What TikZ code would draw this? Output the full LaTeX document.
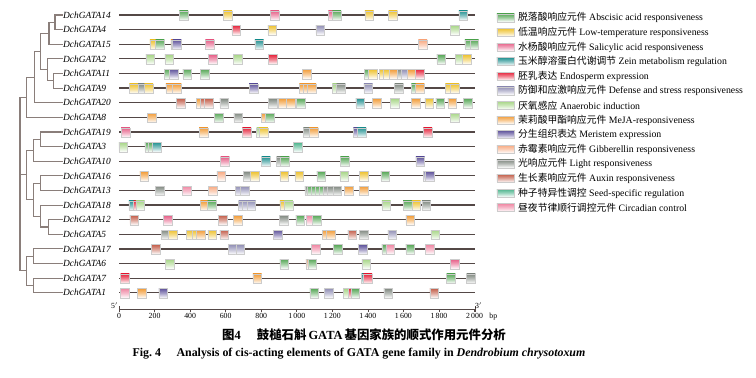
\documentclass[tikz,border=0pt]{standalone}
\usepackage{fontspec}
\setmainfont{Liberation Serif}
\newfontfamily\cjk{Noto Sans CJK SC}
\usetikzlibrary{positioning}

\definecolor{cABA}{RGB}{88,168,88}
\definecolor{cLT}{RGB}{238,194,48}
\definecolor{cSA}{RGB}{230,96,136}
\definecolor{cZN}{RGB}{36,146,146}
\definecolor{cEN}{RGB}{230,36,60}
\definecolor{cDF}{RGB}{146,144,182}
\definecolor{cAN}{RGB}{168,214,136}
\definecolor{cMJ}{RGB}{242,156,56}
\definecolor{cMR}{RGB}{96,84,156}
\definecolor{cGA}{RGB}{248,170,130}
\definecolor{cLR}{RGB}{130,138,130}
\definecolor{cAX}{RGB}{196,96,76}
\definecolor{cSD}{RGB}{76,180,140}
\definecolor{cCC}{RGB}{240,136,164}
\definecolor{treegray}{RGB}{138,126,122}
\definecolor{linegray}{RGB}{84,72,70}

\begin{document}
\begin{tikzpicture}[x=1pt, y=-1pt,
    glabel/.style={anchor=west, inner sep=0.5pt, font=\fontsize{9.4}{10}\selectfont\itshape},
    branch/.style={draw=treegray, line width=1.1pt},
    gline/.style={draw=linegray, line width=1.25pt},
    motif/.style={rectangle, draw=black!20, line width=0.4pt, minimum width=8.7pt, minimum height=9.5pt,
      inner sep=0pt, bottom color=white, top color=#1, middle color=#1!55},
    key/.style={rectangle, draw=black!20, line width=0.4pt, minimum width=17.5pt, minimum height=8pt,
      inner sep=0pt, bottom color=white, top color=#1, middle color=#1!55},
    keytext/.style={inner sep=0pt, font=\fontsize{9.8}{11}\selectfont},
    tick/.style={inner sep=1pt, font=\fontsize{7.8}{8}\selectfont}
    ]
    \useasboundingbox (0,0) rectangle (756,378);

    % gene names and gene lines
    \foreach \g [count=\i from 0] in {14,4,15,2,11,9,20,8,19,3,10,16,13,18,12,5,17,6,7,1} {
      \node [glabel] (g\g) at (62.5,{15+14.62*\i}) {DchGATA\g};
      \draw [gline] (119,{15+14.62*\i}) -- (475,{15+14.62*\i});
    }

    % tree
    \coordinate (a1) at (55,22.3);
    \coordinate (a2) at (49,33.25);
    \coordinate (a3) at (53.3,80.8);
    \coordinate (a4) at (47.3,69.85);
    \coordinate (a5) at (40.7,51.55);
    \coordinate (a6) at (34.3,77.1);
    \coordinate (a7) at (26.7,97.2);
    \coordinate (b1) at (40.7,139.3);
    \coordinate (b2) at (33.3,150.25);
    \coordinate (b3) at (40.7,183.1);
    \coordinate (b4) at (48.3,227);
    \coordinate (b5) at (40.7,216.05);
    \coordinate (b6) at (33.3,199.6);
    \coordinate (b7) at (26.7,174.9);
    \coordinate (c1) at (33.3,256.2);
    \coordinate (c2) at (33.3,285.5);
    \coordinate (c3) at (26.7,270.85);
    \coordinate (root) at (20,180);
    \draw [branch] (g14.west) -| (a1) |- (g4.west);
    \draw [branch] (a1) -| (a2) |- (g15.west);
    \draw [branch] (g11.west) -| (a3) |- (g9.west);
    \draw [branch] (g2.west) -| (a4) |- (a3);
    \draw [branch] (a2) -| (a5) |- (a4);
    \draw [branch] (a5) -| (a6) |- (g20.west);
    \draw [branch] (a6) -| (a7) |- (g8.west);
    \draw [branch] (g19.west) -| (b1) |- (g3.west);
    \draw [branch] (b1) -| (b2) |- (g10.west);
    \draw [branch] (g16.west) -| (b3) |- (g13.west);
    \draw [branch] (g12.west) -| (b4) |- (g5.west);
    \draw [branch] (g18.west) -| (b5) |- (b4);
    \draw [branch] (b3) -| (b6) |- (b5);
    \draw [branch] (b2) -| (b7) |- (b6);
    \draw [branch] (g17.west) -| (c1) |- (g6.west);
    \draw [branch] (g7.west) -| (c2) |- (g1.west);
    \draw [branch] (c1) -| (c3) |- (c2);
    \draw [branch] (a7) -| (root) |- (c3);
    \draw [branch] (b7) -- (b7 -| root);

    % cis-acting elements
    \foreach \x/\t [count=\j] in {183.7/cABA, 227.7/cLT, 274.8/cSA, 332.7/cSA, 336.7/cABA, 369.3/cLT, 393/cLT, 463.3/cZN}
      \node [motif=\t] (m14-\j) at (\x,15.5) {};
    \foreach \x/\t [count=\j] in {236.3/cEN, 272.3/cLT, 320.2/cDF, 454.7/cAN}
      \node [motif=\t] (m4-\j) at (\x,30.1) {};
    \foreach \x/\t [count=\j] in {154.3/cLT, 160/cABA, 175.3/cMJ, 177/cMR, 209.7/cSA, 259.3/cZN, 422.7/cGA, 469.3/cABA, 474.3/cABA}
      \node [motif=\t] (m15-\j) at (\x,44.7) {};
    \foreach \x/\t [count=\j] in {150.3/cAN, 169.3/cAN, 213/cSA, 238/cAN, 273/cEN, 441.3/cABA, 459.5/cAN, 467/cLT}
      \node [motif=\t] (m2-\j) at (\x,59.4) {};
    \foreach \x/\t [count=\j] in {168.7/cABA, 173.7/cMR, 187.3/cABA, 204.7/cABA, 307/cMJ, 368.7/cABA, 372.7/cLT, 383.7/cLT, 387.7/cLT, 393.7/cMJ, 402/cLR, 405.3/cDF, 411.7/cMJ, 420/cEN}
      \node [motif=\t] (m11-\j) at (\x,74) {};
    \foreach \x/\t [count=\j] in {133.7/cLT, 142.5/cLR, 148.7/cLT, 170.3/cMJ, 177/cMJ, 253.5/cMR, 303.7/cMJ, 307.3/cMJ, 311.7/cMJ, 336.7/cAN, 341/cLR, 368.3/cDF, 399/cLR, 415.7/cABA, 420/cMJ, 449.7/cLT, 454.7/cLT}
      \node [motif=\t] (m9-\j) at (\x,88.6) {};
    \foreach \x/\t [count=\j] in {181/cAX, 201/cMJ, 205/cAX, 209/cAX, 224.3/cLR, 273/cLR, 283/cMJ, 291/cMJ, 301/cABA, 360.3/cZN, 376.7/cMJ, 395/cAN, 415.7/cMJ, 429.3/cLT, 440.3/cABA, 452.3/cMJ, 467.7/cABA}
      \node [motif=\t] (m20-\j) at (\x,103.2) {};
    \foreach \x/\t [count=\j] in {151.5/cMJ, 218.7/cABA, 238.3/cLR, 265.7/cMJ, 270/cABA, 454.7/cAN}
      \node [motif=\t] (m8-\j) at (\x,117.8) {};
    \foreach \x/\t [count=\j] in {125.5/cSA, 203.5/cMJ, 246.8/cEN, 261/cAN, 263.5/cLT, 307.7/cLR, 313.7/cMJ, 357.7/cMR, 361.7/cZN, 427.7/cEN}
      \node [motif=\t] (m19-\j) at (\x,132.5) {};
    \foreach \x/\t [count=\j] in {123.3/cAN, 149.3/cABA, 152.7/cABA, 156.7/cZN, 298/cSD}
      \node [motif=\t] (m3-\j) at (\x,147.1) {};
    \foreach \x/\t [count=\j] in {225/cSA, 266/cZN, 281/cLR, 285/cABA, 344.7/cABA, 420.2/cMR}
      \node [motif=\t] (m10-\j) at (\x,161.7) {};
    \foreach \x/\t [count=\j] in {144.3/cMJ, 221.3/cGA, 247.7/cLR, 255/cLT, 284.3/cLT, 299.3/cLT, 321.2/cABA, 344.3/cAN, 363.8/cLT, 385.3/cABA, 427.7/cDF, 429.5/cMR}
      \node [motif=\t] (m16-\j) at (\x,176.3) {};
    \foreach \x/\t [count=\j] in {159.7/cLR, 187/cCC, 212.5/cGA, 240/cDF, 244.7/cDF, 309.3/cLR, 311.3/cABA, 315.3/cABA, 319.3/cABA, 323.3/cABA, 327.3/cLR, 331.3/cLR, 337.3/cLR, 348.7/cMJ, 363.7/cMJ}
      \node [motif=\t] (m13-\j) at (\x,190.9) {};
    \foreach \x/\t [count=\j] in {133.3/cZN, 138/cEN, 140.3/cAN, 204.7/cMJ, 212/cABA, 243/cDF, 246.8/cDF, 251.3/cDF, 284.3/cLT, 288.5/cAN, 386.2/cAN, 407.5/cABA, 416.3/cLT, 426.3/cLR}
      \node [motif=\t] (m18-\j) at (\x,205.6) {};
    \foreach \x/\t [count=\j] in {134.3/cAX, 168/cSA, 222.7/cAX, 237.7/cMJ, 283.7/cLR, 300.3/cABA, 310.3/cCC, 317/cABA, 410.3/cMJ}
      \node [motif=\t] (m12-\j) at (\x,220.2) {};
    \foreach \x/\t [count=\j] in {166/cLR, 172.7/cLT, 191/cLT, 196.3/cLT, 200.7/cMJ, 212.3/cLT, 224.3/cAX, 277.7/cMR, 326.7/cMJ, 331/cMJ, 352.3/cAX, 363.7/cLR, 392.3/cDF, 435.3/cAN}
      \node [motif=\t] (m5-\j) at (\x,234.8) {};
    \foreach \x/\t [count=\j] in {155.7/cAX, 232.7/cDF, 240.3/cDF, 315.8/cCC, 338/cABA, 362.7/cMR, 386.3/cABA, 390.2/cCC, 410.3/cABA, 429.7/cCC}
      \node [motif=\t] (m17-\j) at (\x,249.4) {};
    \foreach \x/\t [count=\j] in {169.7/cAN, 284.3/cABA, 310.3/cGA, 312.3/cABA, 366.3/cAN, 454.8/cSA}
      \node [motif=\t] (m6-\j) at (\x,264) {};
    \foreach \x/\t [count=\j] in {125/cEN, 257.3/cMJ, 366/cZN, 367.7/cEN, 451/cABA, 471/cLR}
      \node [motif=\t] (m7-\j) at (\x,278.7) {};
    \foreach \x/\t [count=\j] in {124.8/cCC, 141.7/cMJ, 163.3/cMR, 314.3/cABA, 328.8/cDF, 348/cAN, 352.7/cEN, 355.3/cABA, 388.3/cLR, 434.3/cAX}
      \node [motif=\t] (m1-\j) at (\x,293.3) {};

    % scale bar
    \draw [linegray, line width=0.8pt] (119,309.5) -- (475,309.5);
    \draw [linegray, line width=0.6pt] (119,306) -- (119,312) (475,306) -- (475,312);
    \foreach \v [count=\k from 0] in {0,200,400,600,800,1\,000,1\,200,1\,400,1\,600,1\,800,2\,000} {
      \draw [linegray, line width=0.6pt] ({119+35.55*\k},309.5) -- ({119+35.55*\k},312);
      \node [tick, anchor=north] (tk\k) at ({119+35.55*\k},312.3) {\v};
    }
    \node [tick] (p5) at (114.5,305.5) {5$'$};
    \node [tick] (p3) at (478.5,305.5) {3$'$};
    \node [tick, right=4pt of tk10] (bp) {bp};

    % legend
    \foreach \c/\cn/\en [count=\k from 0] in {
        cABA/脱落酸响应元件/Abscisic acid responsiveness,
        cLT/低温响应元件/Low-temperature responsiveness,
        cSA/水杨酸响应元件/Salicylic acid responsiveness,
        cZN/玉米醇溶蛋白代谢调节/Zein metabolism regulation,
        cEN/胚乳表达/Endosperm expression,
        cDF/防御和应激响应元件/Defense and stress responsiveness,
        cAN/厌氧感应/Anaerobic induction,
        cMJ/茉莉酸甲酯响应元件/MeJA-responsiveness,
        cMR/分生组织表达/Meristem expression,
        cGA/赤霉素响应元件/Gibberellin responsiveness,
        cLR/光响应元件/Light responsiveness,
        cAX/生长素响应元件/Auxin responsiveness,
        cSD/种子特异性调控/Seed-specific regulation,
        cCC/昼夜节律顺行调控元件/Circadian control} {
      \node [key=\c] (k\k) at (505.5,{17.8+14.6*\k}) {};
      \node [keytext, right=3.5pt of k\k] (t\k) {{\cjk\cn} \en};
    }

    % caption
    \node [font=\bfseries\fontsize{12.4}{14}\selectfont] (capcn) at (364,335)
      {{\cjk 图}4\hspace{1.3em}{\cjk 鼓槌石斛}\,GATA\,{\cjk 基因家族的顺式作用元件分析}};
    \node [font=\bfseries\fontsize{11.9}{13}\selectfont] (capen) at (359,354)
      {Fig.\ 4\hspace{1.3em}Analysis of cis-acting elements of GATA gene family in \textit{Dendrobium chrysotoxum}};
\end{tikzpicture}
\end{document}
